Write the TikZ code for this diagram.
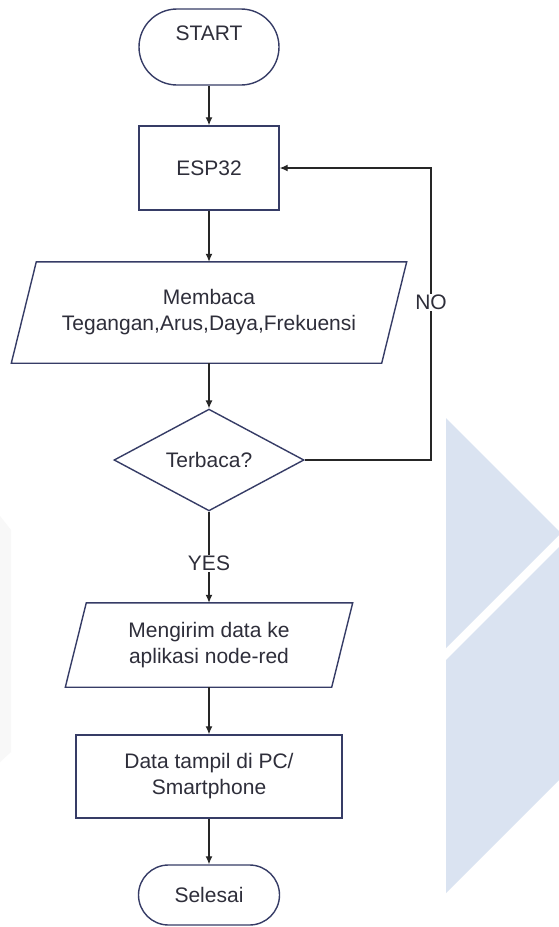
\documentclass[tikz,border=0pt]{standalone}
\usepackage{fontspec}
\setmainfont{Liberation Sans}
\usetikzlibrary{calc, shapes.geometric, positioning, arrows, arrows.meta}
\definecolor{garis}{HTML}{363C66}
\definecolor{alurc}{HTML}{262626}
\definecolor{teks}{HTML}{2E2E3A}
\definecolor{latar}{HTML}{DAE3F1}
\definecolor{samar}{HTML}{F8F8F8}

\begin{document}
\begin{tikzpicture}[x=1pt, y=-1pt,
  every node/.style={font=\fontsize{21}{26}\selectfont, text=teks},
  bingkai/.style={draw=garis, line width=1.4pt},
  terminal/.style={bingkai},
  proses/.style={bingkai, align=center},
  io/.style={align=center},
  keputusan/.style={bingkai, diamond, inner sep=0pt, minimum width=190pt, minimum height=84pt},
  alur/.style={draw=alurc, line width=1.3pt, -{Latex[length=8pt,width=7pt]}},
  ket/.style={fill=white, inner sep=1pt}]
\fill[white] (0,0) rectangle (559,927);
\useasboundingbox (0,0) rectangle (559,927);
% latar belakang
\fill[latar] (446,418) -- (559,531) -- (559,535) -- (446,648) -- cycle;
\fill[latar] (446,660) -- (559,547) -- (559,780) -- (446,893) -- cycle;
\fill[samar] (0,516) -- (11,530) -- (11,752) -- (0,762) -- cycle;
% node
\node[terminal, rounded corners=38pt, minimum width=140pt, minimum height=76pt, text height=15pt, text depth=28pt] (start) at (209,47) {START};
\node[proses, minimum width=140pt, minimum height=84pt] (esp) at (209,168) {ESP32};
\node[io, minimum width=370pt, minimum height=101pt] (baca) at (209,312.5) {Membaca\\Tegangan,Arus,Daya,Frekuensi};
\node[keputusan] (cek) at (209,460) {Terbaca?};
\node[io, minimum width=266pt, minimum height=84pt] (kirim) at (209,645) {Mengirim data ke\\aplikasi node-red};
\node[proses, minimum width=266pt, minimum height=83pt] (tampil) at (209,776.5) {Data tampil di PC/\\Smartphone};
\node[terminal, rounded corners=30pt, minimum width=141pt, minimum height=60pt] (selesai) at (209,895) {Selesai};
\coordinate (balik) at (431,168);
% jajaran genjang input/output
\foreach \n/\s in {baca/12.5, kirim/10.5}
  \draw[bingkai] ($(\n.north west)+(\s,0)$) -- ($(\n.north east)+(\s,0)$) -- ($(\n.south east)-(\s,0)$) -- ($(\n.south west)-(\s,0)$) -- cycle;
% alur
\draw[alur] (start) -- (esp);
\draw[alur] (esp) -- (baca);
\draw[alur] (baca) -- (cek);
\draw[alur] (cek) -- node[ket, pos=0.57] {YES} (kirim);
\draw[alur] (kirim) -- (tampil);
\draw[alur] (tampil) -- (selesai);
\draw[alur] (cek.east) -| node[ket, pos=0.77] {NO} (balik) -- (esp.east);
\end{tikzpicture}
\end{document}
